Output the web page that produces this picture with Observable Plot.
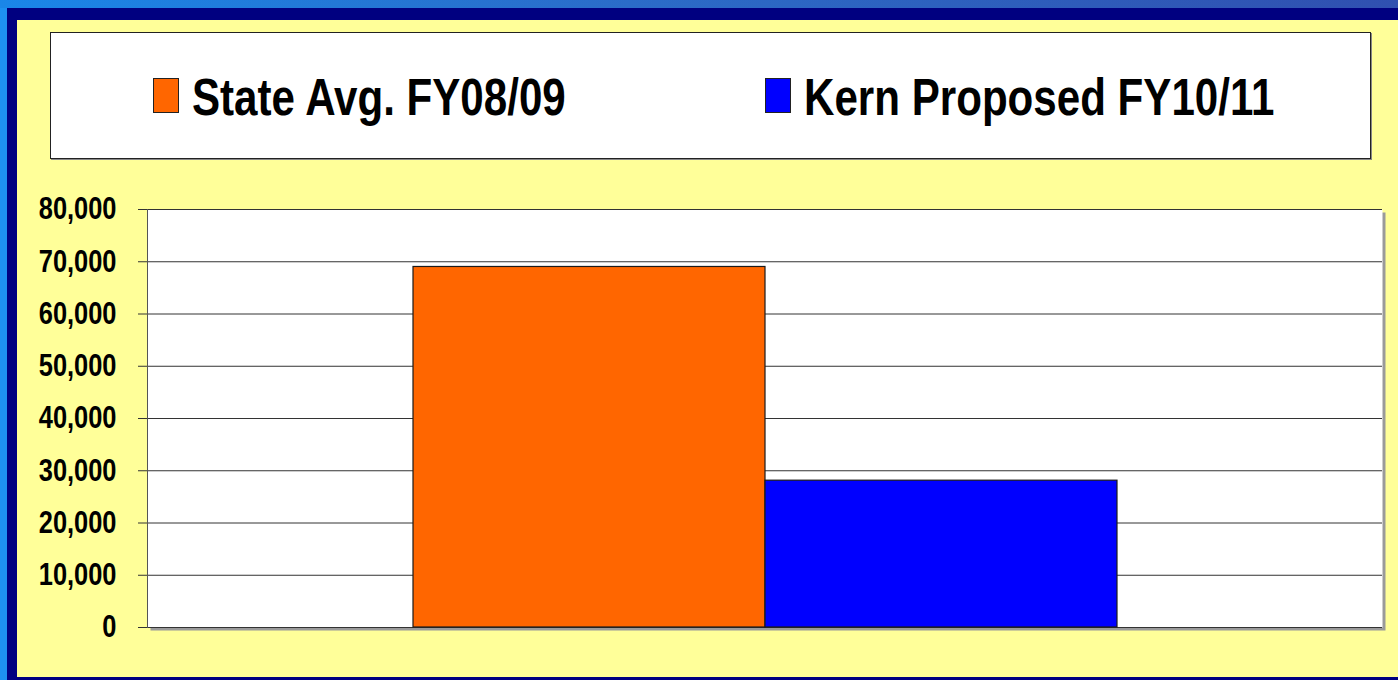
<!DOCTYPE html>
<html>
<head>
<meta charset="utf-8">
<script src="https://cdn.jsdelivr.net/npm/d3@7"></script>
<script src="https://cdn.jsdelivr.net/npm/@observablehq/plot@0.6"></script>
<style>
  html, body { margin: 0; padding: 0; }
  body { width: 1398px; height: 680px; overflow: hidden; }
  #outer { position: absolute; left: 0; top: 0; width: 1398px; height: 680px; background: #1e90f0; }
  #topstrip { position: absolute; left: 0; top: 0; width: 1398px; height: 8px; background: linear-gradient(to right, #1a86e8, #2b6cc8 45%, #3050b0); }
  #navy { position: absolute; left: 7px; top: 8px; right: 0; bottom: 0; background: #000080; }
  #yellow { position: absolute; left: 17px; top: 20px; right: 0; bottom: 3px; background: #ffff99; }
  #legend { position: absolute; left: 50px; top: 32px; width: 1319px; height: 125px; background: #fff; border: 1px solid #222; box-shadow: 1px 1px 0 #888; }
  .item { position: absolute; top: 0; height: 125px; display: flex; align-items: center; }
  .sw { width: 24px; height: 33px; border: 1px solid #222; margin-right: 13px; flex: none; }
  .lab { font-family: "Liberation Sans", Arial, sans-serif; font-weight: bold; font-size: 52px; color: #000; white-space: nowrap; line-height: 1; display: inline-block; transform: scaleX(0.81); transform-origin: left center; margin-top: 2px; }
  #chart { position: absolute; left: 17px; top: 180px; }
</style>
</head>
<body>
<div id="outer"></div>
<div id="topstrip"></div>
<div id="navy"></div>
<div id="yellow"></div>
<div id="legend"></div>
<div id="chart"></div>
<script>
const categories = [""];
const series = ["State Avg. FY08/09", "Kern Proposed FY10/11"];
const values = [69000, 28100];
const colors = ["#ff6600", "#0000ff"];
const yTicks = [0, 10000, 20000, 30000, 40000, 50000, 60000, 70000, 80000];

const data = series.map((s, i) => ({category: categories[0], series: s, value: values[i]}));

// Legend
const legend = document.getElementById("legend");
const itemLefts = [102, 714];
series.forEach((s, i) => {
  const it = document.createElement("div");
  it.className = "item";
  it.style.left = itemLefts[i] + "px";
  const sw = document.createElement("div");
  sw.className = "sw";
  sw.style.background = colors[i];
  const lab = document.createElement("span");
  lab.className = "lab";
  lab.textContent = s;
  it.appendChild(sw);
  it.appendChild(lab);
  legend.appendChild(it);
});

const chart = Plot.plot({
  width: 1381,
  height: 480,
  marginLeft: 130,
  marginRight: 16,
  marginTop: 29,
  marginBottom: 33,
  style: {
    background: "transparent",
    fontFamily: '"Liberation Sans", Arial, sans-serif',
    overflow: "visible"
  },
  x: {domain: series, paddingInner: 0, paddingOuter: 0.75, axis: null},
  y: {domain: [0, 80000], label: null},
  color: {domain: series, range: colors},
  marks: [
    Plot.frame({fill: "#9a9a9a", dx: 3, dy: 3}),
    Plot.frame({fill: "white"}),
    Plot.ruleY(yTicks, {stroke: "#333", strokeWidth: 1}),
    Plot.barY(data, {x: "series", y: "value", fill: "series", stroke: "#1a1a1a", strokeWidth: 1.2}),
    Plot.frame({anchor: "left", stroke: "#555"}),
    Plot.axisY({
      ticks: yTicks,
      tickFormat: d3.format(","),
      tickSize: 9,
      tickPadding: 22,
      fontSize: 31,
      fontWeight: "bold",
      stroke: "#333",
      color: "#000",
      label: null
    })
  ]
});
chart.querySelectorAll("g[aria-label='y-axis tick label'] text").forEach(t => {
  t.setAttribute("font-weight", "bold");
  const tr = t.getAttribute("transform") || "";
  t.setAttribute("transform", tr + " scale(0.82,1)");
});
document.getElementById("chart").appendChild(chart);
</script>
</body>
</html>
